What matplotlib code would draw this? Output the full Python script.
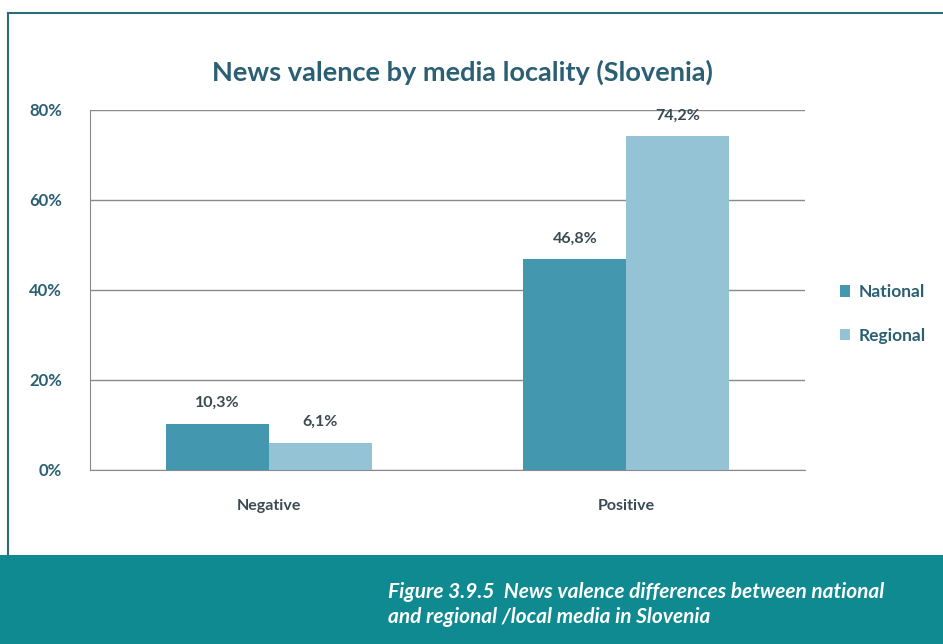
import matplotlib.pyplot as plt
import numpy as np
from matplotlib.patches import Rectangle
from matplotlib.lines import Line2D

categories = ["Negative", "Positive"]
series_names = ["National", "Regional"]
national = [10.3, 46.8]
regional = [6.1, 74.2]
y_ticks = [0, 20, 40, 60, 80]

colors = ["#4397ae", "#93c3d4"]
text_col = "#2b5f73"
label_col = "#3a4a52"
band_col = "#0f8a91"

plt.rcParams["font.family"] = ["Lato", "DejaVu Sans"]

W, H = 943, 644
fig = plt.figure(figsize=(W / 100, H / 100), dpi=100)
fig.patch.set_facecolor("white")

# frame and caption band
fig.add_artist(Line2D([8 / W, 8 / W], [89 / H, 1 - 13 / H], color="#2e6b7a", lw=1.5))
fig.add_artist(Line2D([8 / W, 1], [1 - 13 / H, 1 - 13 / H], color="#2e6b7a", lw=1.5))
fig.add_artist(Rectangle((0, 0), 1, 89 / H, transform=fig.transFigure,
                         facecolor=band_col, edgecolor="none"))
fig.text(388 / W, 1 - 592 / H, "Figure 3.9.5  News valence differences between national",
         color="white", fontsize=15, fontweight="bold", fontstyle="italic", va="center")
fig.text(388 / W, 1 - 617 / H, "and regional /local media in Slovenia",
         color="white", fontsize=15, fontweight="bold", fontstyle="italic", va="center")

ax = fig.add_axes([90 / W, (H - 470) / H, 715 / W, 360 / H])
x = np.arange(len(categories))
bw = 0.288
vals = [national, regional]
for i, (name, v) in enumerate(zip(series_names, vals)):
    pos = x + (i - 0.5) * bw
    bars = ax.bar(pos, v, width=bw, color=colors[i], label=name, zorder=3)
    for b, val in zip(bars, v):
        ax.text(b.get_x() + b.get_width() / 2, val + 3.0, f"{val:.1f}%".replace(".", ","),
                ha="center", va="bottom", fontsize=11.5, fontweight="bold", color=label_col)

ax.set_xlim(-0.5, 1.5)
ax.set_ylim(0, 80)
ax.set_yticks(y_ticks)
ax.set_yticklabels([f"{t}%" for t in y_ticks])
ax.set_xticks(x)
ax.set_xticklabels(categories)
ax.grid(axis="y", color="#8a8a8a", lw=1, zorder=0)
for s in ["top", "right"]:
    ax.spines[s].set_visible(False)
ax.spines["left"].set_color("#8a8a8a")
ax.spines["bottom"].set_color("#8a8a8a")
ax.tick_params(length=0)
ax.tick_params(axis="y", pad=20, labelsize=12, labelcolor=text_col)
ax.tick_params(axis="x", pad=21, labelsize=11.5, labelcolor=label_col)
for t in ax.get_yticklabels() + ax.get_xticklabels():
    t.set_fontweight("bold")

fig.text(462 / W, 1 - 72 / H, "News valence by media locality (Slovenia)",
         ha="center", va="center", fontsize=19.5, fontweight="bold", color=text_col)

leg = fig.legend(loc="center left", bbox_to_anchor=(824 / W, 1 - 314 / H), frameon=False,
                 handlelength=0.6, handleheight=0.6, labelspacing=1.6, handletextpad=0.5,
                 prop={"weight": "bold", "size": 12.5})
for t in leg.get_texts():
    t.set_color(text_col)

fig.savefig("out.png", dpi=100)
